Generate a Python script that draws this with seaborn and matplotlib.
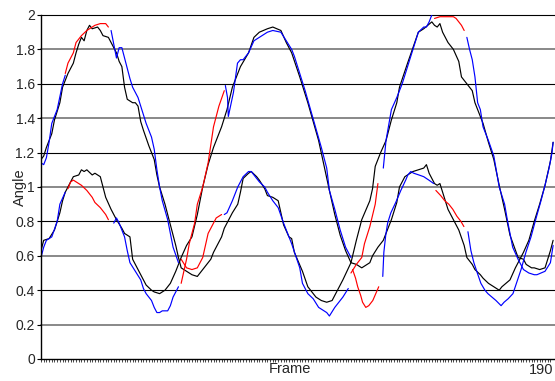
import numpy as np
import pandas as pd
import matplotlib
matplotlib.use("Agg")
import matplotlib.pyplot as plt
import seaborn as sns
from matplotlib.ticker import MultipleLocator

sns.set_style("white")
plt.rcParams["font.family"] = ["Liberation Sans", "DejaVu Sans"]

# ---------------- data (frame, angle) ----------------
black_x_frames = [0, 1, 2, 4, 5, 7, 8, 10, 12, 13, 14, 15, 16, 17, 18, 19, 21, 22, 23, 25, 26, 28, 29, 30,
                  31, 32, 34, 35, 36, 37, 38, 40, 42, 43, 44, 46, 48, 50, 51, 52, 54, 56, 58, 60, 63, 64,
                  65, 67, 68, 69, 71, 73, 74, 75, 77, 78, 80, 81, 83, 84, 86, 88, 90, 92, 93, 94, 97, 99,
                  102, 104, 106, 108, 110, 112, 115, 117, 119, 122, 123, 124, 126, 128, 130, 132, 133, 136,
                  138, 140, 142, 145, 146, 147, 148, 149, 151, 153, 155, 156, 158, 160, 161, 164, 166, 168,
                  170, 172, 174, 177, 179, 180, 182, 183, 185, 187, 188, 189, 190]
black_x_values = [1.16, 1.18, 1.23, 1.31, 1.39, 1.49, 1.58, 1.66, 1.72, 1.78, 1.83, 1.87, 1.85, 1.91, 1.94,
                  1.92, 1.93, 1.91, 1.88, 1.87, 1.84, 1.78, 1.73, 1.70, 1.58, 1.51, 1.49, 1.49, 1.47, 1.38,
                  1.33, 1.24, 1.16, 1.07, 1.00, 0.90, 0.78, 0.66, 0.59, 0.53, 0.51, 0.49, 0.48, 0.52, 0.58,
                  0.62, 0.65, 0.71, 0.76, 0.79, 0.85, 0.90, 0.97, 1.05, 1.08, 1.09, 1.06, 1.04, 0.99, 0.95,
                  0.94, 0.92, 0.78, 0.71, 0.70, 0.62, 0.51, 0.42, 0.36, 0.34, 0.33, 0.34, 0.40, 0.46, 0.56,
                  0.69, 0.81, 0.92, 0.99, 1.12, 1.20, 1.27, 1.39, 1.49, 1.58, 1.72, 1.81, 1.90, 1.92, 1.96,
                  1.94, 1.93, 1.95, 1.90, 1.84, 1.80, 1.73, 1.64, 1.60, 1.56, 1.49, 1.37, 1.26, 1.16, 1.01,
                  0.87, 0.72, 0.59, 0.58, 0.55, 0.53, 0.53, 0.52, 0.53, 0.58, 0.63, 0.69]

black_y_frames = [0, 1, 3, 5, 7, 8, 9, 10, 12, 14, 15, 16, 17, 19, 20, 22, 23, 24, 26, 28, 30, 31, 32, 33,
                  34, 36, 38, 39, 41, 42, 44, 46, 48, 50, 52, 54, 56, 58, 60, 62, 64, 67, 69, 71, 74, 77,
                  79, 81, 84, 86, 89, 91, 93, 96, 99, 103, 107, 109, 111, 113, 115, 117, 119, 122, 123, 125,
                  127, 130, 132, 133, 135, 138, 140, 142, 143, 144, 146, 147, 148, 149, 151, 153, 155, 157,
                  158, 160, 161, 163, 164, 166, 168, 170, 171, 174, 176, 179, 181, 183, 185, 187, 189, 190]
black_y_values = [0.63, 0.69, 0.70, 0.75, 0.85, 0.92, 0.97, 1.00, 1.06, 1.07, 1.10, 1.09, 1.10, 1.07, 1.08,
                  1.06, 1.00, 0.94, 0.87, 0.81, 0.76, 0.73, 0.72, 0.71, 0.58, 0.52, 0.46, 0.43, 0.40, 0.39,
                  0.38, 0.40, 0.44, 0.51, 0.59, 0.66, 0.71, 0.84, 1.00, 1.13, 1.23, 1.35, 1.45, 1.58, 1.70,
                  1.78, 1.87, 1.90, 1.92, 1.93, 1.91, 1.84, 1.78, 1.64, 1.49, 1.27, 0.98, 0.84, 0.72, 0.63,
                  0.56, 0.55, 0.53, 0.56, 0.60, 0.65, 0.69, 0.81, 0.91, 1.00, 1.06, 1.09, 1.10, 1.11, 1.13,
                  1.08, 1.02, 1.01, 1.02, 0.97, 0.87, 0.81, 0.75, 0.66, 0.59, 0.55, 0.52, 0.49, 0.47, 0.44,
                  0.42, 0.40, 0.42, 0.46, 0.53, 0.62, 0.69, 0.80, 0.90, 1.01, 1.15, 1.26]

# blue series (tracked), broken into segments
blue_x_segments = [
    ([0, 1, 2, 3, 4, 6, 8, 9],
     [1.14, 1.13, 1.17, 1.26, 1.37, 1.45, 1.60, 1.65]),
    ([26, 28, 29, 30, 31, 32, 33, 34, 36, 37, 38, 39, 41, 42, 43, 44, 45, 47, 48, 49, 51],
     [1.91, 1.75, 1.81, 1.81, 1.75, 1.69, 1.63, 1.58, 1.52, 1.47, 1.42, 1.37, 1.29, 1.22, 1.10, 1.00,
      0.92, 0.81, 0.73, 0.65, 0.56]),
    ([68, 69, 71, 73, 75, 77, 78, 79, 81, 83, 84, 86, 88, 90, 92, 93, 96, 97, 99, 101, 103, 105, 106,
      107, 109, 112, 114],
     [0.84, 0.85, 0.92, 1.00, 1.06, 1.09, 1.09, 1.07, 1.03, 1.00, 0.97, 0.92, 0.88, 0.79, 0.71, 0.67,
      0.53, 0.44, 0.38, 0.35, 0.30, 0.28, 0.27, 0.25, 0.30, 0.36, 0.41]),
    ([127, 128, 129, 130, 132, 134, 136, 138, 140, 142, 143, 144, 145],
     [1.11, 1.27, 1.36, 1.45, 1.52, 1.60, 1.70, 1.80, 1.90, 1.93, 1.93, 1.96, 2.00]),
    ([158, 159, 160, 161, 162, 163, 164, 166, 168, 170, 172, 173, 175, 177, 179, 181, 183, 184, 187,
      189, 190],
     [1.87, 1.80, 1.74, 1.64, 1.49, 1.45, 1.35, 1.27, 1.18, 1.00, 0.90, 0.81, 0.65, 0.58, 0.52, 0.50,
      0.49, 0.49, 0.51, 0.56, 0.66]),
]

blue_y_segments = [
    ([0, 1, 2, 4, 6, 7, 9],
     [0.59, 0.65, 0.69, 0.71, 0.80, 0.90, 0.97]),
    ([27, 28, 29, 31, 32, 33, 35, 37, 38, 39, 41, 42, 43, 44, 45, 47, 48, 49, 51],
     [0.79, 0.82, 0.79, 0.71, 0.63, 0.56, 0.51, 0.46, 0.41, 0.38, 0.34, 0.30, 0.27, 0.27, 0.28, 0.28,
      0.31, 0.36, 0.42]),
    ([68.4, 69.2, 69.5, 71.4, 72.9, 74, 75, 77, 79, 81, 84, 86, 89, 91, 93, 94, 96, 98, 100, 102, 104,
      106, 107, 109, 111, 113, 115],
     [1.59, 1.52, 1.41, 1.55, 1.72, 1.74, 1.74, 1.78, 1.85, 1.87, 1.90, 1.91, 1.90, 1.85, 1.80, 1.76,
      1.66, 1.56, 1.45, 1.34, 1.23, 1.11, 0.98, 0.87, 0.75, 0.65, 0.59]),
    ([126.8, 127.2, 127.9, 128.6, 129.8, 131.6, 133.5, 135.3, 136.1, 137.2, 138.3, 140.2, 142, 143.9,
      145.7],
     [0.48, 0.62, 0.72, 0.79, 0.85, 0.91, 0.98, 1.04, 1.07, 1.09, 1.08, 1.07, 1.06, 1.04, 1.02]),
    ([158.4, 159.5, 160.6, 162.1, 163.2, 164.7, 165.8, 167.3, 168.8, 170.7, 171.8, 173.3, 175.1, 176.6,
      178.1, 179.9, 181.8, 183.7, 185.5, 187, 188.5, 189.6, 190],
     [0.74, 0.63, 0.56, 0.49, 0.44, 0.40, 0.38, 0.36, 0.34, 0.31, 0.33, 0.35, 0.38, 0.45, 0.52, 0.62,
      0.71, 0.82, 0.92, 1.01, 1.11, 1.20, 1.26]),
]

# red series (estimated during gaps)
red_segments = [
    ([9, 10, 12, 13, 15, 17, 18, 20, 22, 24, 25],
     [1.66, 1.72, 1.78, 1.84, 1.88, 1.91, 1.92, 1.94, 1.95, 1.95, 1.93]),
    ([10, 11, 12, 13, 15, 17, 19, 20, 22, 24, 25],
     [0.99, 1.03, 1.04, 1.03, 1.01, 0.98, 0.94, 0.91, 0.88, 0.84, 0.81]),
    ([52, 54, 56, 58, 60, 61, 62, 64, 65, 67],
     [0.58, 0.53, 0.52, 0.53, 0.59, 0.66, 0.73, 0.79, 0.82, 0.84]),
    ([52, 53, 54, 55, 57, 58, 60, 62, 64, 66, 68],
     [0.44, 0.51, 0.58, 0.67, 0.79, 0.90, 1.00, 1.14, 1.35, 1.47, 1.56]),
    ([115, 117, 119, 120, 122, 124, 125],
     [0.50, 0.55, 0.59, 0.67, 0.77, 0.90, 1.02]),
    ([115.6, 116.7, 117.5, 118.6, 119.3, 120.5, 121.6, 123.1, 124.2, 125.3],
     [0.52, 0.47, 0.42, 0.37, 0.33, 0.30, 0.31, 0.34, 0.38, 0.42]),
    ([146, 148, 149, 151, 153, 154, 155, 156, 157],
     [1.98, 1.99, 1.99, 1.99, 1.99, 1.98, 1.96, 1.94, 1.91]),
    ([146.5, 148.3, 149.8, 151.3, 152.8, 154.3, 155.8, 156.9],
     [0.98, 0.95, 0.92, 0.90, 0.87, 0.83, 0.80, 0.77]),
]

y_ticks = [0, 0.2, 0.4, 0.6, 0.8, 1.0, 1.2, 1.4, 1.6, 1.8, 2.0]
x_tick = 190

# ---------------- build long-form table ----------------
rows = []
def add(frames, values, colour, seg):
    for f, v in zip(frames, values):
        rows.append({"frame": f, "angle": v, "colour": colour, "seg": seg})

add(black_x_frames, black_x_values, "black", "bx")
add(black_y_frames, black_y_values, "black", "by")
for i, (f, v) in enumerate(blue_x_segments):
    add(f, v, "blue", f"ux{i}")
for i, (f, v) in enumerate(blue_y_segments):
    add(f, v, "blue", f"uy{i}")
for i, (f, v) in enumerate(red_segments):
    add(f, v, "red", f"r{i}")
df = pd.DataFrame(rows)

# ---------------- figure ----------------
fig = plt.figure(figsize=(5.55, 3.81), dpi=100)
ax = fig.add_axes([41 / 555, 22 / 381, 514 / 555, 344 / 381])

for i, yv in enumerate(y_ticks[1:]):
    if i % 2 == 0:
        ax.axhline(yv, color="#888888", lw=1.4, zorder=0, clip_on=False)
    else:
        ax.axhline(yv, color="black", lw=0.8, zorder=0, clip_on=False)

colours = {"black": "#000000", "blue": "#0000ff", "red": "#ff0000"}
for c in ["black", "blue", "red"]:
    sub = df[df["colour"] == c]
    sns.lineplot(data=sub, x="frame", y="angle", units="seg", estimator=None, sort=False,
                 color=colours[c], lw=0.85, legend=False, ax=ax, zorder=2)

ax.set_xlim(0, 190.7)
ax.set_ylim(0, 2)

ax.set_yticks(y_ticks)
ax.set_yticklabels([f"{v:g}" for v in y_ticks], fontsize=10)
ax.tick_params(axis="y", length=3, width=0.8, direction="out", color="black", pad=1.5, left=True)

ax.set_xticks([x_tick])
ax.set_xticklabels([str(x_tick)], fontsize=10.5, ha="right")
ax.tick_params(axis="x", which="major", length=0, pad=3, bottom=True)
ax.xaxis.set_minor_locator(MultipleLocator(1))
ax.tick_params(axis="x", which="minor", length=2.5, width=0.5, direction="out", color="black", bottom=True)

for s in ["top", "right"]:
    ax.spines[s].set_visible(False)
for s in ["left", "bottom"]:
    ax.spines[s].set_color("black")
    ax.spines[s].set_linewidth(1.0)

ax.set_xlabel("Frame", fontsize=10.5)
ax.xaxis.set_label_coords((290 - 41) / 514, -0.008)
ax.set_ylabel("Angle", fontsize=10.5)
ax.yaxis.set_label_coords(-0.027, 0.5)

fig.savefig("out.png", dpi=100)
